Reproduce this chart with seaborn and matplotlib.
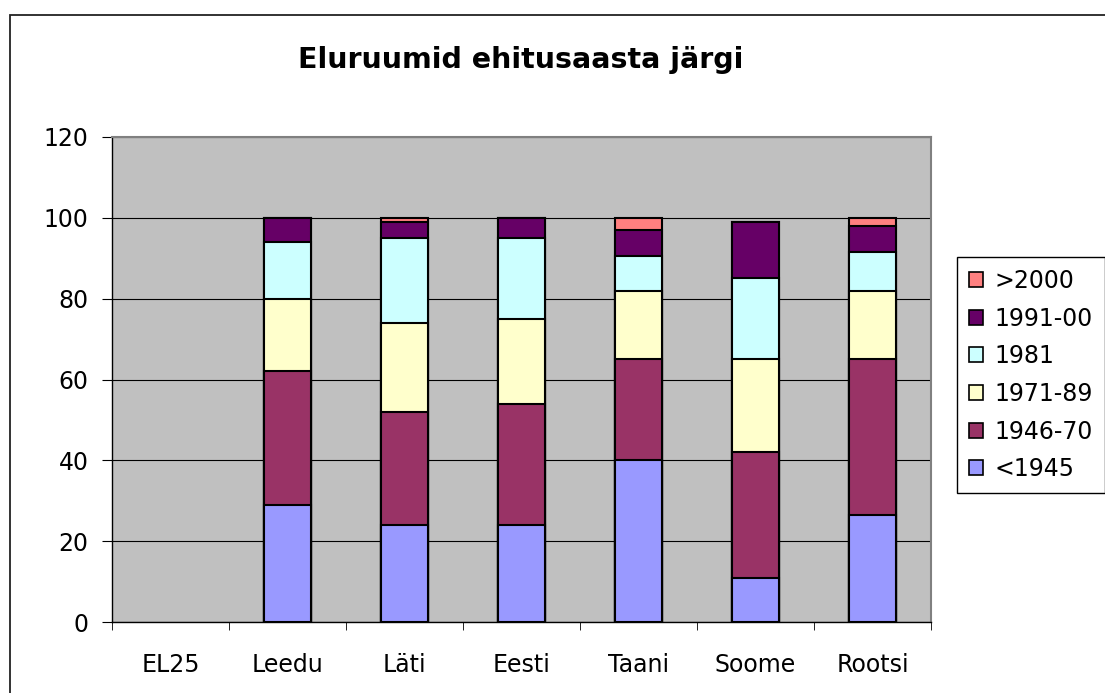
import numpy as np
import pandas as pd
import seaborn as sns
import matplotlib.pyplot as plt
from matplotlib.patches import Rectangle, Patch
from matplotlib.ticker import FixedLocator, MultipleLocator

# ----------------------- Data -----------------------------------------------

countries = ["EL25", "Leedu", "Läti", "Eesti", "Taani", "Soome", "Rootsi"]
periods = ["<1945", "1946-70", "1971-89", "1981", "1991-00", ">2000"]
colors = ["#9999FF", "#993366", "#FFFFCC", "#CCFFFF", "#660066", "#FF8080"]

# shares in %, EL25 has no data
pre1945 = [np.nan, 29, 24, 24, 40, 11, 26.5]
y1946_70 = [np.nan, 33, 28, 30, 25, 31, 38.5]
y1971_89 = [np.nan, 18, 22, 21, 17, 23, 17]
y1981 = [np.nan, 14, 21, 20, 8.5, 20, 9.5]
y1991_00 = [np.nan, 6, 4, 5, 6.5, 14, 6.5]
post2000 = [np.nan, 0, 1, 0, 3, 0, 2]

series = [pre1945, y1946_70, y1971_89, y1981, y1991_00, post2000]
cum = np.cumsum(np.array(series, dtype=float), axis=0)

# ----------------------- Plot -----------------------------------------------

fig = plt.figure(figsize=(11.05, 6.93), dpi=100)
ax = fig.add_axes([112 / 1105, 1 - 622 / 693, (931 - 112) / 1105, (622 - 137) / 693])
ax.set_facecolor("#C0C0C0")

# stacked bars: draw the tallest cumulative layer first, then cover it
for i in reversed(range(len(periods))):
    df = pd.DataFrame({"maa": countries, "osa": cum[i]})
    sns.barplot(data=df, x="maa", y="osa", order=countries, color=colors[i],
                saturation=1, width=0.4, edgecolor="black", linewidth=1.5, ax=ax)

ax.set_xlabel("")
ax.set_ylabel("")
ax.set_ylim(0, 120)
ax.set_xlim(-0.5, 6.5)
ax.yaxis.set_major_locator(MultipleLocator(20))
ax.yaxis.grid(True, color="black", linewidth=0.8)
ax.set_axisbelow(True)

ax.xaxis.set_minor_locator(FixedLocator(np.arange(-0.5, 7, 1)))
ax.tick_params(axis="x", which="major", length=0, pad=22, labelsize=17)
ax.tick_params(axis="x", which="minor", length=6, direction="out", color="black")
ax.tick_params(axis="y", length=7, direction="out", pad=10, labelsize=17, color="black")

for s in ["left", "bottom"]:
    ax.spines[s].set_color("black")
    ax.spines[s].set_linewidth(1)
for s in ["top", "right"]:
    ax.spines[s].set_color("#808080")
    ax.spines[s].set_linewidth(1.5)

fig.text(521 / 1105, 1 - 60 / 693, "Eluruumid ehitusaasta järgi",
         ha="center", va="center", fontsize=20.5, fontweight="bold")

handles = [Patch(facecolor=c, edgecolor="black", linewidth=1.2) for c in colors]
fig.legend(handles[::-1], periods[::-1], loc="upper left",
           bbox_to_anchor=(957 / 1105, 1 - 257 / 693), fontsize=17,
           frameon=True, fancybox=False, edgecolor="black", framealpha=1,
           handlelength=0.6, handleheight=0.6, handletextpad=0.5,
           labelspacing=0.58, borderpad=0.5, borderaxespad=0)

# outer chart border (only left and top edges visible)
fig.add_artist(Rectangle((10 / 1105, -0.5), 2, 1 - 15 / 693 + 0.5,
                         transform=fig.transFigure, fill=False,
                         edgecolor="#222222", linewidth=1.3))

fig.savefig("out.png", dpi=100)
